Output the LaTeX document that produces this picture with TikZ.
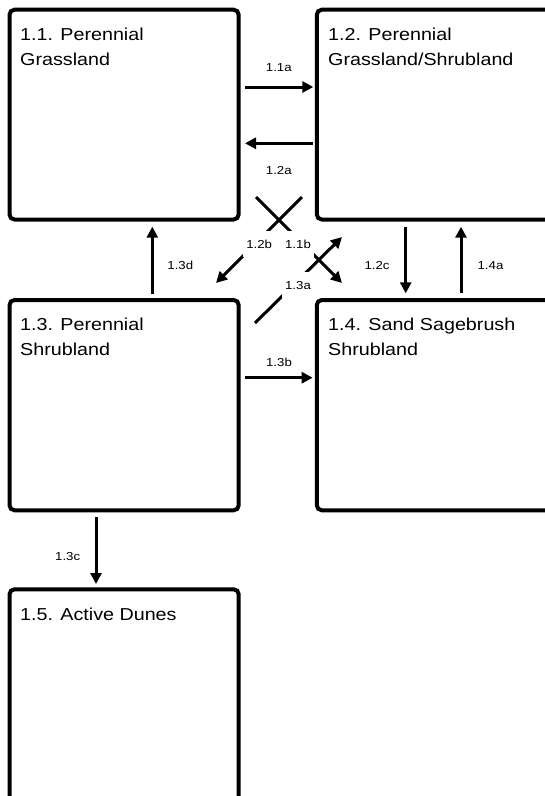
\documentclass[tikz,border=0pt]{standalone}
\usepackage{fontspec}
\setmainfont{Liberation Sans}
\newfontfamily\boxfont[FakeStretch=1.14]{Liberation Sans}
\usetikzlibrary{arrows.meta,calc}

\begin{document}
\begin{tikzpicture}[x=1pt,y=-1pt,
  statebox/.style={draw=black, line width=4pt, rounded corners=5pt, inner sep=0pt},
  colbox/.style={statebox, minimum width=229.2pt},
  widebox/.style={statebox, minimum width=243.2pt},
  title/.style={font=\boxfont\fontsize{17.3}{24.6}\selectfont, inner sep=0pt, anchor=base west},
  arr/.style={line width=3pt, -{Triangle[length=11pt,width=11pt]}},
  lbl/.style={font=\boxfont\fontsize{11.6}{13}\selectfont, inner sep=0pt, anchor=base},
  cutlbl/.style={lbl, fill=white, inner xsep=3pt, inner ysep=9pt}]

\useasboundingbox (0,0) rectangle (545,796);
\fill[white] (0,0) rectangle (545,796);
\clip (0,0) rectangle (545,796);

% state boxes
\node[colbox,  minimum height=209.8pt] (b11) at (124.1,114.6) {};
\node[widebox, minimum height=209.8pt] (b12) at (438.4,114.6) {};
\node[colbox,  minimum height=210.3pt] (b13) at (124.1,405.15) {};
\node[widebox, minimum height=210.3pt] (b14) at (438.4,405.15) {};
\node[colbox,  minimum height=230.7pt] (b15) at (124.1,704.65) {};

% state titles
\node[title] (t11) at (20,40.7)  {\begin{tabular}[t]{@{}l@{}}1.1. Perennial\\Grassland\end{tabular}};
\node[title] (t12) at (328,40.7) {\begin{tabular}[t]{@{}l@{}}1.2. Perennial\\Grassland/Shrubland\end{tabular}};
\node[title] (t13) at (20,330.7) {\begin{tabular}[t]{@{}l@{}}1.3. Perennial\\Shrubland\end{tabular}};
\node[title] (t14) at (328,330.7) {\begin{tabular}[t]{@{}l@{}}1.4. Sand Sagebrush\\Shrubland\end{tabular}};
\node[title] (t15) at (20,620) {1.5. Active Dunes};

% horizontal transitions
\draw[arr, shorten <=4.3pt, shorten >=1.5pt] ([yshift=27.6pt]b11.east) -- ([yshift=27.6pt]b12.west);
\draw[arr, shorten <=2.1pt, shorten >=4.3pt] ([yshift=-28.7pt]b12.west) -- ([yshift=-28.7pt]b11.east);
\draw[arr, shorten <=4.3pt, shorten >=2.1pt] ([yshift=27.45pt]b13.east) -- ([yshift=27.45pt]b14.west);

% vertical transitions
\draw[arr, shorten <=3.7pt, shorten >=5.2pt] ([xshift=28.2pt]b13.north) -- ([xshift=28.2pt]b11.south);
\draw[arr, shorten <=5.2pt, shorten >=4.7pt] ([xshift=-32.7pt]b12.south) -- ([xshift=-32.7pt]b14.north);
\draw[arr, shorten <=4.7pt, shorten >=5.2pt] ([xshift=22.6pt]b14.north) -- ([xshift=22.6pt]b12.south);
\draw[arr, shorten <=5pt, shorten >=3.3pt] ([xshift=-28.1pt]b13.south) -- ([xshift=-28.1pt]b15.north);

% diagonal transitions
\coordinate (xa) at (256,197); \coordinate (xae) at (342,283);
\coordinate (xb) at (302,197); \coordinate (xbe) at (216,283);
\coordinate (xc) at (255,323); \coordinate (xce) at (342,237);
\draw[arr] (xa) -- (xae);
\draw[arr] (xb) -- (xbe);
\draw[arr] (xc) -- (xce);

% transition labels
\node[lbl] (l11a) at (278.8,71.7) {1.1a};
\node[lbl] (l12a) at (278.8,174) {1.2a};
\node[lbl] (l13d) at (180.3,269) {1.3d};
\node[lbl] (l12c) at (377,269) {1.2c};
\node[lbl] (l14a) at (490.5,269) {1.4a};
\node[lbl] (l13b) at (279,366) {1.3b};
\node[lbl] (l13c) at (67.7,560) {1.3c};
\node[cutlbl] (l12b) at (259.2,248.3) {1.2b};
\node[cutlbl] (l11b) at (298,248.3) {1.1b};
\node[cutlbl] (l13a) at (298,289.3) {1.3a};
\end{tikzpicture}
\end{document}
